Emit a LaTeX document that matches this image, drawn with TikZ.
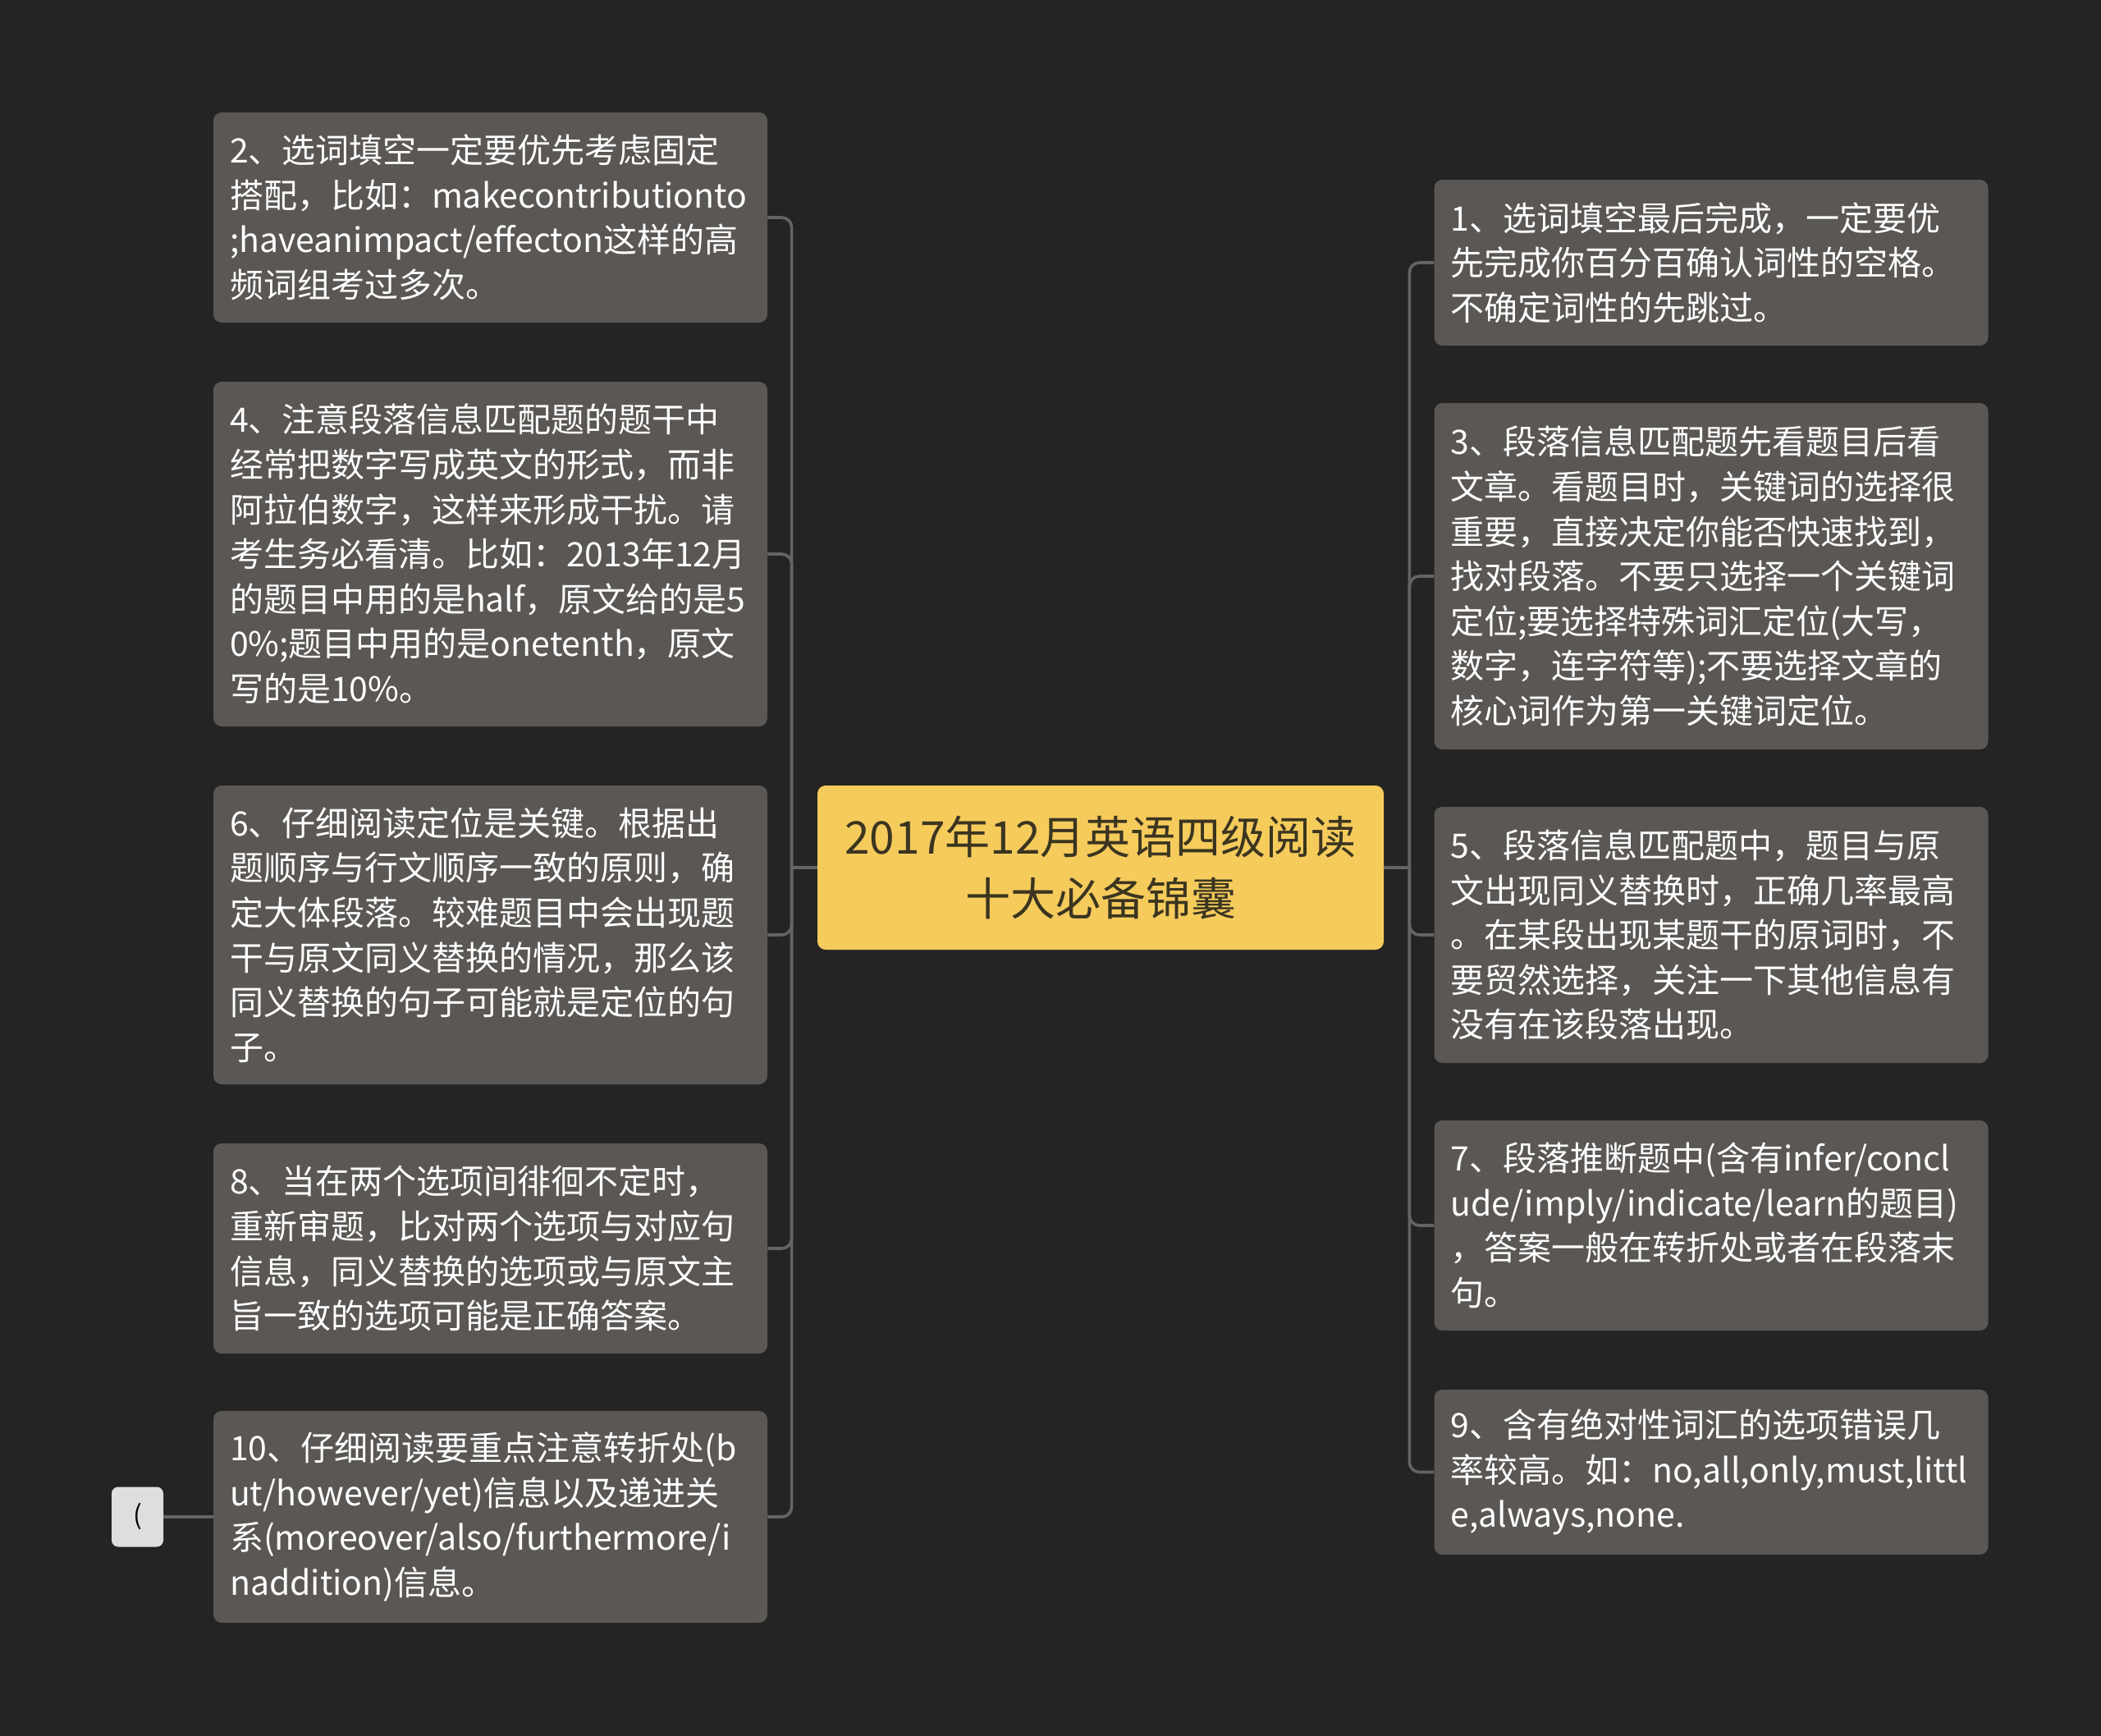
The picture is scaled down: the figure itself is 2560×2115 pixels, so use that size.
\documentclass[tikz,border=0pt]{standalone}
\usepackage{fontspec}
\usepackage{xcolor}
\usepackage{tikz}
\newfontfamily\cjk{Noto Sans CJK SC}
\hyphenpenalty=10000
\exhyphenpenalty=10000

\definecolor{bgcol}{HTML}{242424}
\definecolor{leafcol}{HTML}{5A5754}
\definecolor{linecol}{HTML}{656463}
\definecolor{rootcol}{HTML}{F5CB5C}
\definecolor{roottext}{HTML}{3B3520}
\definecolor{tipcol}{HTML}{DEDEDE}

\begin{document}
\begin{tikzpicture}[
    x=0.5pt, y=-0.5pt,
    root/.style={rectangle, fill=rootcol, text=roottext, rounded corners=5pt, minimum width=345pt, minimum height=100pt, align=center, font=\cjk\fontsize{27.5}{37.5}\selectfont},
    leaf/.style={rectangle, fill=leafcol, text=white, rounded corners=5pt, align=left, text width=317.5pt, inner xsep=10pt, inner ysep=0pt, font=\cjk\fontsize{20.5}{27.3}\selectfont},
    tip/.style={rectangle, fill=tipcol, text=black, rounded corners=4pt, minimum width=31.5pt, minimum height=36.5pt, inner sep=0pt, font=\cjk\fontsize{16}{18}\selectfont},
    conn/.style={draw=linecol, line width=1.8pt, rounded corners=6pt}
]
    % Background
    \fill[bgcol] (0,0) rectangle (2560,2115);
    \useasboundingbox (0,0) rectangle (2560,2115);

    % Central topic
    \node[root] (root) at (1341,1057) {2017年12月英语四级阅读\\十大必备锦囊};

    % Left branch
    \node[leaf, minimum height=128pt] (b2) at (597.5,265) {2、选词填空一定要优先考虑固定\\搭配，比如：makecontributionto\\;haveanimpact/effecton这样的高\\频词组考过多次。};
    \node[leaf, minimum height=210pt] (b4) at (597.5,675) {4、注意段落信息匹配题的题干中\\经常把数字写成英文的形式，而非\\阿拉伯数字，这样来形成干扰。请\\考生务必看清。比如：2013年12月\\的题目中用的是half，原文给的是5\\0\%;题目中用的是onetenth，原文\\写的是10\%。};
    \node[leaf, minimum height=182pt] (b6) at (597.5,1139) {6、仔细阅读定位是关键。根据出\\题顺序与行文顺序一致的原则，确\\定大体段落。较难题目中会出现题\\干与原文同义替换的情况，那么该\\同义替换的句子可能就是定位的句\\子。};
    \node[leaf, minimum height=128pt] (b8) at (597.5,1521) {8、当在两个选项间徘徊不定时，\\重新审题，比对两个选项与对应句\\信息，同义替换的选项或与原文主\\旨一致的选项可能是正确答案。};
    \node[leaf, minimum height=129pt] (b10) at (597.5,1848) {10、仔细阅读要重点注意转折处(b\\ut/however/yet)信息以及递进关\\系(moreover/also/furthermore/i\\naddition)信息。};
    \node[tip] (b10tip) at (167.5,1848) {(};

    % Right branch
    \node[leaf, minimum height=101pt] (b1) at (2085,320) {1、选词填空最后完成，一定要优\\先完成你百分百确认词性的空格。\\不确定词性的先跳过。};
    \node[leaf, minimum height=211pt] (b3) at (2085,702) {3、段落信息匹配题先看题目后看\\文章。看题目时，关键词的选择很\\重要，直接决定你能否快速找到，\\找对段落。不要只选择一个关键词\\定位;要选择特殊词汇定位(大写，\\数字，连字符等);不要选择文章的\\核心词作为第一关键词定位。};
    \node[leaf, minimum height=156pt] (b5) at (2085,1139) {5、段落信息匹配题中，题目与原\\文出现同义替换时，正确几率最高\\。在某段出现某题干的原词时，不\\要贸然选择，关注一下其他信息有\\没有在该段落出现。};
    \node[leaf, minimum height=128pt] (b7) at (2085,1493) {7、段落推断题中(含有infer/concl\\ude/imply/indicate/learn的题目)\\，答案一般在转折处或者在段落末\\句。};
    \node[leaf, minimum height=100.5pt] (b9) at (2085,1793.5) {9、含有绝对性词汇的选项错误几\\率较高。如：no,all,only,must,littl\\e,always,none.};

    % Connectors
    \coordinate (ljoin) at ([xshift=-15.5pt]root.west);
    \coordinate (rjoin) at ([xshift=15.5pt]root.east);
    \draw[conn] (root.west) -- (ljoin);
    \draw[conn] (root.east) -- (rjoin);
    \foreach \n in {b2,b4,b6,b8,b10}
        \draw[conn] (ljoin) |- (\n.east);
    \foreach \n in {b1,b3,b5,b7,b9}
        \draw[conn] (rjoin) |- (\n.west);
    \draw[conn] (b10.west) -- (b10tip.east);
\end{tikzpicture}
\end{document}
